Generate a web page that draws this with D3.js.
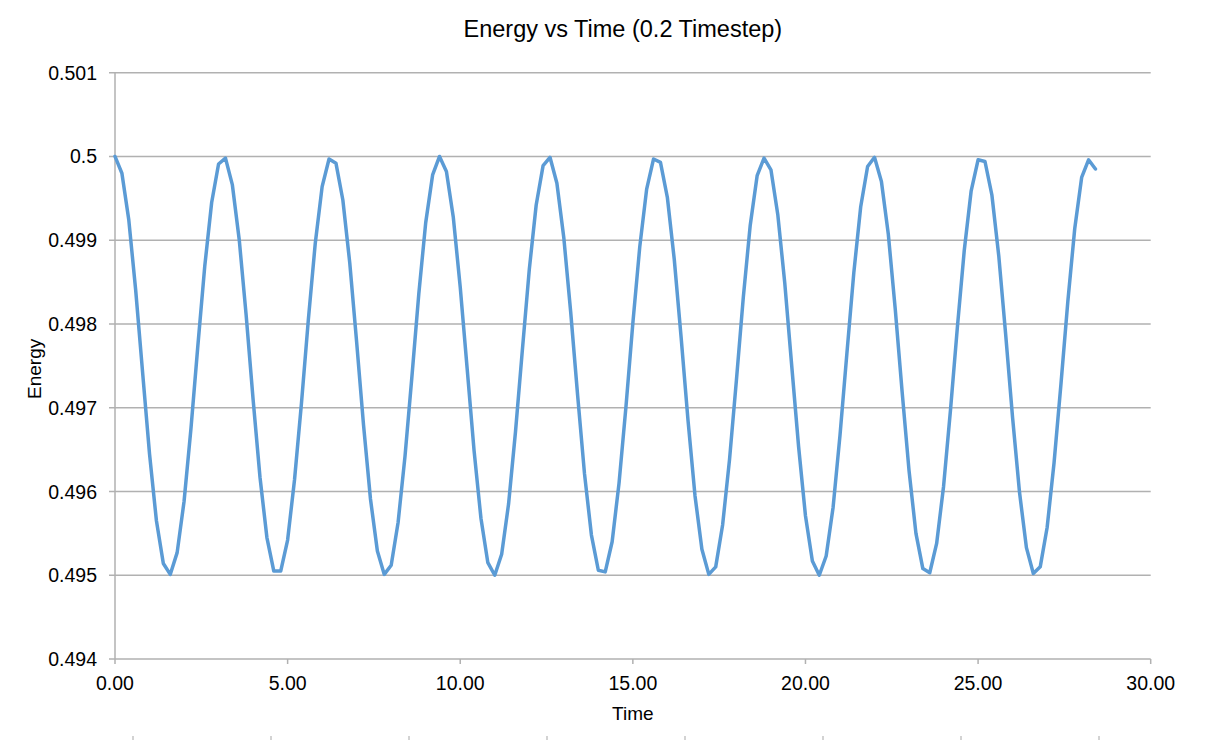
<!DOCTYPE html>
<html><head><meta charset="utf-8">
<script src="https://cdn.jsdelivr.net/npm/d3@7"></script>
<style>
body{margin:0;background:#fff}
svg{display:block}
text{font-family:"Liberation Sans", Arial, Helvetica, sans-serif; fill:#000}
</style>
</head><body>
<svg id="chart" width="1214" height="740"></svg>
<script>
const chartTitle = "Energy vs Time (0.2 Timestep)";
const xTitle = "Time";
const yTitle = "Energy";

const time = [
 0.0,0.2,0.4,0.6,0.8,1.0,1.2,1.4,1.6,1.8,2.0,2.2,2.4,2.6,2.8,3.0,
 3.2,3.4,3.6,3.8,4.0,4.2,4.4,4.6,4.8,5.0,5.2,5.4,5.6,5.8,6.0,6.2,
 6.4,6.6,6.8,7.0,7.2,7.4,7.6,7.8,8.0,8.2,8.4,8.6,8.8,9.0,9.2,9.4,
 9.6,9.8,10.0,10.2,10.4,10.6,10.8,11.0,11.2,11.4,11.6,11.8,12.0,12.2,12.4,12.6,
 12.8,13.0,13.2,13.4,13.6,13.8,14.0,14.2,14.4,14.6,14.8,15.0,15.2,15.4,15.6,15.8,
 16.0,16.2,16.4,16.6,16.8,17.0,17.2,17.4,17.6,17.8,18.0,18.2,18.4,18.6,18.8,19.0,
 19.2,19.4,19.6,19.8,20.0,20.2,20.4,20.6,20.8,21.0,21.2,21.4,21.6,21.8,22.0,22.2,
 22.4,22.6,22.8,23.0,23.2,23.4,23.6,23.8,24.0,24.2,24.4,24.6,24.8,25.0,25.2,25.4,
 25.6,25.8,26.0,26.2,26.4,26.6,26.8,27.0,27.2,27.4,27.6,27.8,28.0,28.2,28.4
];

const energy = [
 0.50000,0.49980,0.49924,0.49840,0.49742,0.49645,0.49565,0.49514,0.49501,0.49527,0.49588,0.49675,0.49774,0.49869,0.49945,0.49991,
 0.49998,0.49966,0.49900,0.49810,0.49710,0.49617,0.49545,0.49505,0.49505,0.49542,0.49614,0.49705,0.49805,0.49896,0.49964,0.49997,
 0.49992,0.49948,0.49873,0.49778,0.49679,0.49591,0.49529,0.49501,0.49512,0.49563,0.49642,0.49737,0.49836,0.49921,0.49978,0.50000,
 0.49982,0.49927,0.49844,0.49747,0.49649,0.49568,0.49515,0.49500,0.49525,0.49585,0.49671,0.49769,0.49865,0.49942,0.49989,0.49999,
 0.49968,0.49903,0.49814,0.49715,0.49621,0.49548,0.49506,0.49504,0.49540,0.49610,0.49701,0.49801,0.49892,0.49961,0.49997,0.49993,
 0.49951,0.49877,0.49783,0.49684,0.49595,0.49531,0.49501,0.49510,0.49560,0.49638,0.49733,0.49832,0.49918,0.49977,0.49998,0.49984,
 0.49930,0.49849,0.49751,0.49654,0.49571,0.49517,0.49500,0.49523,0.49581,0.49667,0.49765,0.49861,0.49940,0.49988,0.49999,0.49970,
 0.49907,0.49818,0.49719,0.49625,0.49550,0.49508,0.49503,0.49538,0.49606,0.49697,0.49796,0.49888,0.49959,0.49996,0.49994,0.49954,
 0.49881,0.49787,0.49688,0.49599,0.49533,0.49502,0.49510,0.49557,0.49634,0.49728,0.49827,0.49914,0.49975,0.49996,0.49985
];

const xTicks = [0, 5, 10, 15, 20, 25, 30];
const xTickLabels = ["0.00", "5.00", "10.00", "15.00", "20.00", "25.00", "30.00"];
const yTicks = [0.494, 0.495, 0.496, 0.497, 0.498, 0.499, 0.5, 0.501];
const yTickLabels = ["0.494", "0.495", "0.496", "0.497", "0.498", "0.499", "0.5", "0.501"];
const strayTicks = [0, 1, 2, 3, 4, 5, 6, 7];

const svg = d3.select("#chart");
const plot = {left: 115, right: 1150.7, top: 72.7, bottom: 659};
const gridColor = "#b1b1b1";
const lineColor = "#5b9bd5";

const x = d3.scaleLinear().domain([0, 30]).range([plot.left, plot.right]);
const y = d3.scaleLinear().domain([0.494, 0.501]).range([plot.bottom, plot.top]);

// horizontal gridlines
svg.append("g").selectAll("line").data(yTicks).join("line")
  .attr("x1", plot.left - 6).attr("x2", plot.right)
  .attr("y1", d => y(d)).attr("y2", d => y(d))
  .attr("stroke", gridColor).attr("stroke-width", 1.5);

// y axis line
svg.append("line")
  .attr("x1", plot.left).attr("x2", plot.left)
  .attr("y1", plot.top).attr("y2", plot.bottom)
  .attr("stroke", gridColor).attr("stroke-width", 1.5);

// y tick labels
svg.append("g").selectAll("text").data(yTicks).join("text")
  .attr("x", plot.left - 18)
  .attr("y", d => y(d))
  .attr("dy", "0.36em")
  .attr("text-anchor", "end")
  .attr("font-size", 19.5)
  .text((d, i) => yTickLabels[i]);

// x axis ticks
svg.append("g").selectAll("line").data(xTicks).join("line")
  .attr("x1", d => x(d)).attr("x2", d => x(d))
  .attr("y1", plot.bottom).attr("y2", plot.bottom + 5)
  .attr("stroke", gridColor).attr("stroke-width", 1.5);

svg.append("g").selectAll("text").data(xTicks).join("text")
  .attr("x", d => x(d))
  .attr("y", 690)
  .attr("text-anchor", "middle")
  .attr("font-size", 19.5)
  .text((d, i) => xTickLabels[i]);

// stray ticks at the bottom edge
const s = d3.scaleLinear().domain([0, 7]).range([133, 1099]);
svg.append("g").selectAll("line").data(strayTicks).join("line")
  .attr("x1", d => s(d)).attr("x2", d => s(d))
  .attr("y1", 736).attr("y2", 740)
  .attr("stroke", "#c4c4c4").attr("stroke-width", 1.5);

// data line
const pts = time.map((t, i) => [t, energy[i]]);
svg.append("path")
  .datum(pts)
  .attr("fill", "none")
  .attr("stroke", lineColor)
  .attr("stroke-width", 3.5)
  .attr("stroke-linejoin", "round")
  .attr("stroke-linecap", "round")
  .attr("d", d3.line().x(d => x(d[0])).y(d => y(d[1])));

// titles
svg.append("text")
  .attr("x", (plot.left + plot.right) / 2 - 10)
  .attr("y", 37)
  .attr("text-anchor", "middle")
  .attr("font-size", 23.5)
  .text(chartTitle);

svg.append("text")
  .attr("x", (plot.left + plot.right) / 2)
  .attr("y", 720)
  .attr("text-anchor", "middle")
  .attr("font-size", 19)
  .text(xTitle);

svg.append("text")
  .attr("transform", `translate(40.5, ${(plot.top + plot.bottom) / 2 + 3}) rotate(-90)`)
  .attr("text-anchor", "middle")
  .attr("font-size", 19)
  .text(yTitle);
</script>
</body></html>
